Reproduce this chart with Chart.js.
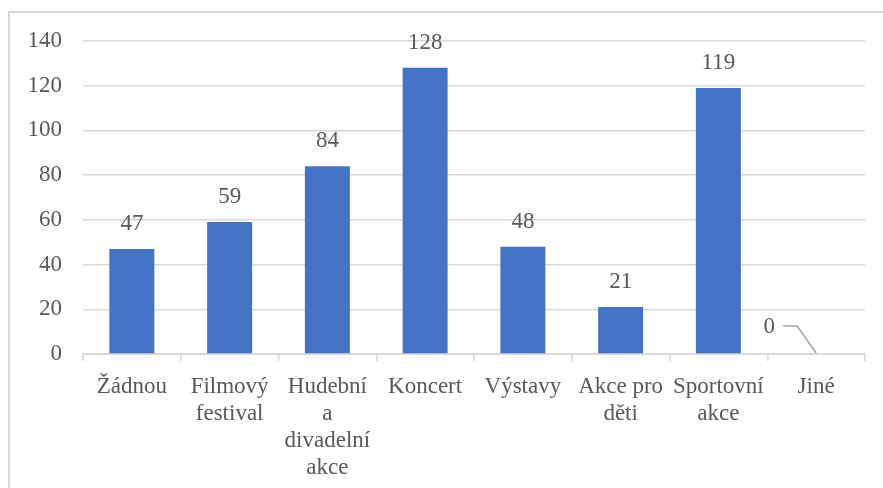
<!DOCTYPE html>
<html>
<head>
<meta charset="utf-8">
<script src="https://cdn.jsdelivr.net/npm/chart.js@4.4.1/dist/chart.umd.min.js"></script>
<style>
    html, body { margin: 0; padding: 0; background: #fff; }
    .frame {
        position: absolute; left: 0; top: 0; width: 883px; height: 488px;
    }
    .frame-border {
        position: absolute; left: 8px; top: 11px; right: 0; bottom: 0;
        border-left: 2px solid #d9d9d9; border-top: 2px solid #d9d9d9;
        pointer-events: none;
    }
    .font-warmup {
        position: absolute; left: -9999px; top: 0;
        font-family: 'Liberation Serif'; font-size: 23px;
    }
</style>
</head>
<body>
<div class="font-warmup">Žádnou Filmový děti 0123456789</div>
<div class="frame">
    <canvas id="eventsChart" width="883" height="488"></canvas>
    <div class="frame-border"></div>
</div>
<script>
// Chart data
const categories = [
    'Žádnou',
    ['Filmový', 'festival'],
    ['Hudební', 'a', 'divadelní', 'akce'],
    'Koncert',
    'Výstavy',
    ['Akce pro', 'děti'],
    ['Sportovní', 'akce'],
    'Jiné'
];
const counts = [47, 59, 84, 128, 48, 21, 119, 0];
const yTicks = [0, 20, 40, 60, 80, 100, 120, 140];

const FONT = "'Liberation Serif'";
const TEXT = '#595959';
const GRID = '#d9d9d9';

// Value labels above bars (zero values get pushed left with a leader line)
const valueLabels = {
    id: 'valueLabels',
    afterDatasetsDraw(chart) {
        const ctx = chart.ctx;
        const meta = chart.getDatasetMeta(0);
        ctx.save();
        ctx.font = '23px ' + FONT;
        ctx.fillStyle = TEXT;
        ctx.textAlign = 'center';
        ctx.textBaseline = 'middle';
        meta.data.forEach((bar, i) => {
            const v = counts[i];
            if (v === 0) {
                const lx = bar.x - 47, ly = bar.y - 27;
                ctx.fillText(String(v), lx, ly);
                ctx.strokeStyle = '#a6a6a6';
                ctx.lineWidth = 1.5;
                ctx.beginPath();
                ctx.moveTo(lx + 14, ly - 1);
                ctx.lineTo(lx + 28, ly - 1);
                ctx.lineTo(bar.x, bar.y - 1);
                ctx.stroke();
            } else {
                ctx.fillText(String(v), bar.x, bar.y - 25);
            }
        });
        ctx.restore();
    }
};

function drawChart() {
    Chart.defaults.font.family = FONT;
    Chart.defaults.font.size = 23;

    new Chart(document.getElementById('eventsChart'), {
        type: 'bar',
        data: {
            labels: categories,
            datasets: [{
                data: counts,
                backgroundColor: '#4472C4',
                categoryPercentage: 1,
                barPercentage: 0.46
            }]
        },
        options: {
            responsive: false,
            animation: false,
            layout: { padding: { left: 0, right: 18, top: 41, bottom: 0 } },
            plugins: { legend: { display: false }, tooltip: { enabled: false } },
            scales: {
                x: {
                    grid: {
                        offset: true, drawOnChartArea: false, drawTicks: true,
                        tickLength: 7, color: GRID, lineWidth: 1.5
                    },
                    border: { color: GRID, width: 2 },
                    ticks: {
                        color: TEXT, padding: 12, maxRotation: 0, autoSkip: false,
                        font: { family: FONT, size: 23, lineHeight: 1.18 }
                    },
                    afterFit: (scale) => { scale.height = 134; }
                },
                y: {
                    min: 0, max: 140,
                    afterBuildTicks: (scale) => { scale.ticks = yTicks.map(v => ({ value: v })); },
                    grid: { color: GRID, lineWidth: 1.5, drawTicks: false },
                    border: { display: false },
                    ticks: {
                        color: TEXT, padding: 21,
                        font: { family: FONT, size: 23 }
                    },
                    afterFit: (scale) => { scale.width = 83; }
                }
            }
        },
        plugins: [valueLabels]
    });
}

document.fonts.ready.then(drawChart);
</script>
</body>
</html>
